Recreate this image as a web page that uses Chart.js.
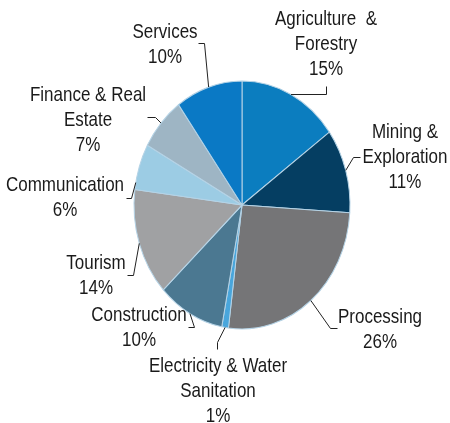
<!DOCTYPE html>
<html>
<head>
<meta charset="utf-8">
<script src="https://cdn.jsdelivr.net/npm/chart.js"></script>
<style>
  html, body { margin: 0; padding: 0; background: #fff; }
  #wrap { width: 450px; height: 423px; }
</style>
</head>
<body>
<div id="wrap"><canvas id="sectorChart" width="450" height="423"></canvas></div>
<script>
// sector shares, clockwise from 12 o'clock
const sectors = [
  ["Agriculture  &", "Forestry"],
  ["Mining &", "Exploration"],
  ["Processing"],
  ["Electricity & Water", "Sanitation"],
  ["Construction"],
  ["Tourism"],
  ["Communication"],
  ["Finance & Real", "Estate"],
  ["Services"]
];
const shares = [15, 11, 26, 1, 10, 14, 6, 7, 10];
const sectorColors = ["#0B7DBF", "#053E62", "#757577", "#49A6DC", "#4B7891", "#A0A1A3", "#9CCCE4", "#9EB5C4", "#0A79C5"];

// where each label sits and how its leader line bends (t = point along the arc)
const labelSpots = [
  { x: 326, y: 20, t: 0.5, path: [[326, 94], [326, 86]] },
  { x: 405, y: 133, t: 0.5, path: [[353, 157], [360, 157]] },
  { x: 380, y: 318, t: 0.5, path: [[330, 328], [337, 328]] },
  { x: 218, y: 367, t: 0.5, path: [[217, 342], [217, 349]] },
  { x: 139, y: 316, t: 0.5, path: [[194, 327], [188, 327]] },
  { x: 96, y: 264, t: 0.5, path: [[133, 275], [127, 275]] },
  { x: 65, y: 186, t: 0.15, path: [[131, 198], [126, 198]] },
  { x: 88, y: 96, t: 0.5, path: [[155, 117], [147, 117]] },
  { x: 165, y: 33, t: 0.5, path: [[204, 43], [198, 43]] }
];

const stretchY = 1.148;
const lineGap = 25;

// the pie is drawn slightly taller than wide
const ellipse = {
  id: "ellipse",
  beforeDatasetsDraw(chart) {
    const a = chart.getDatasetMeta(0).data[0];
    const ctx = chart.ctx;
    ctx.save();
    ctx.translate(a.x, a.y);
    ctx.scale(1, stretchY);
    ctx.translate(-a.x, -a.y);
  },
  afterDatasetsDraw(chart) {
    chart.ctx.restore();
  }
};

const sectorLabels = {
  id: "sectorLabels",
  afterDraw(chart) {
    const ctx = chart.ctx;
    const arcs = chart.getDatasetMeta(0).data;
    ctx.save();
    ctx.strokeStyle = "#222";
    ctx.lineWidth = 1;
    ctx.fillStyle = "#1a1a1a";
    ctx.font = "17px 'Liberation Sans', Arial, sans-serif";
    ctx.textAlign = "center";
    ctx.textBaseline = "middle";
    arcs.forEach((arc, i) => {
      const spot = labelSpots[i];
      const ang = arc.startAngle + spot.t * (arc.endAngle - arc.startAngle);
      const sx = arc.x + arc.outerRadius * Math.cos(ang);
      const sy = arc.y + arc.outerRadius * Math.sin(ang) * stretchY;
      ctx.beginPath();
      ctx.moveTo(sx, sy);
      spot.path.forEach(p => ctx.lineTo(p[0] + 0.5, p[1] + 0.5));
      ctx.stroke();

      const lines = sectors[i].concat([shares[i] + "%"]);
      lines.forEach((txt, k) => {
        ctx.save();
        ctx.translate(spot.x, spot.y + k * lineGap);
        ctx.scale(1, stretchY);
        ctx.fillText(txt, 0, 0);
        ctx.restore();
      });
    });
    ctx.restore();
  }
};

new Chart(document.getElementById("sectorChart"), {
  type: "pie",
  data: {
    labels: sectors.map(s => s.join(" ")),
    datasets: [{
      data: shares,
      backgroundColor: sectorColors,
      borderColor: "#B5D3E6",
      borderWidth: 1
    }]
  },
  options: {
    responsive: false,
    animation: false,
    events: [],
    radius: 108,
    layout: { padding: { left: 134, right: 100, top: 97, bottom: 110 } },
    plugins: {
      legend: { display: false },
      tooltip: { enabled: false }
    }
  },
  plugins: [ellipse, sectorLabels]
});
</script>
</body>
</html>
